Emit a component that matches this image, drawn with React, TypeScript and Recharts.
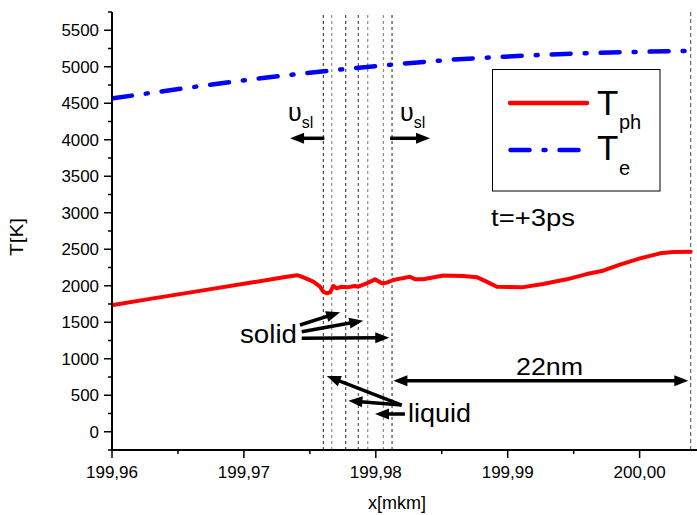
import React from 'react';
import { LineChart, Line, XAxis, YAxis, ReferenceLine, Customized } from 'recharts';

const FONT = '"Liberation Sans", Arial, Helvetica, sans-serif';

// T_ph (lattice temperature), red solid
const tphX = [199.96008, 199.96288, 199.96667, 199.97046, 199.97312, 199.97403, 199.97438, 199.97526, 199.97577, 199.97602, 199.97628, 199.97653, 199.97678, 199.97704, 199.97741, 199.97779, 199.97842, 199.97867, 199.97931, 199.97994, 199.98045, 199.98083, 199.98133, 199.98196, 199.98259, 199.98297, 199.9836, 199.98512, 199.98663, 199.98765, 199.98835, 199.98917, 199.99106, 199.99268, 199.99447, 199.99599, 199.99723, 199.99851, 200.00003, 200.00155, 200.00253, 200.00387];
const tphY = [1736, 1820, 1930, 2040, 2120, 2145, 2124, 2056, 1987, 1918, 1897, 1910, 1997, 1965, 1987, 1978, 1997, 1987, 2033, 2088, 2033, 2042, 2079, 2101, 2124, 2088, 2088, 2140, 2132, 2118, 2060, 1987, 1978, 2023, 2088, 2160, 2206, 2290, 2375, 2444, 2462, 2466];

// T_e (electron temperature), blue dash-dot
const teX = [199.96008, 199.96288, 199.96667, 199.97046, 199.97425, 199.97804, 199.98184, 199.98563, 199.98942, 199.99321, 199.997, 200.00079, 200.00387];
const teY = [4568, 4640, 4735, 4825, 4905, 4975, 5040, 5095, 5135, 5168, 5192, 5208, 5218];

const xTicks = [199.96, 199.965, 199.97, 199.975, 199.98, 199.985, 199.99, 199.995, 200.0];
const yTicks = [-250, 0, 250, 500, 750, 1000, 1250, 1500, 1750, 2000, 2250, 2500, 2750, 3000, 3250, 3500, 3750, 4000, 4250, 4500, 4750, 5000, 5250, 5500, 5750];

// vertical dashed lines (interface positions) and 22nm end marker
const interfaceX = [199.97602, 199.97666, 199.97772, 199.97867, 199.97939, 199.98057, 199.98123];
const interfaceColors = ['#222', '#777', '#222', '#333', '#777', '#777', '#222'];
const rangeEndX = 200.00387;

// annotation arrows: [fromX, fromY, toX, toY, doubleHeaded]
const arrows: [number, number, number, number, boolean][] = [
  [199.9761, 4020, 199.9735, 4020, false],
  [199.98108, 4020, 199.98411, 4020, false],
  [199.97425, 1462, 199.97729, 1636, false],
  [199.97438, 1371, 199.97905, 1521, false],
  [199.97438, 1280, 199.98102, 1288, false],
  [199.98196, 366, 199.97628, 764, false],
  [199.98196, 366, 199.97792, 425, false],
  [199.98221, 243, 199.97994, 243, false],
  [199.98133, 699, 200.00369, 699, true],
];

const tphData = tphX.map((x, i) => ({ x, y: tphY[i] }));
const teData = teX.map((x, i) => ({ x, y: teY[i] }));

const charW = (s: string, d: number, c: number) =>
  s.split('').reduce((a, ch) => a + (ch === ',' ? c : d), 0);

const XTick = (props: any) => {
  const { x, y, payload } = props;
  const v: number = payload.value;
  const major = Math.abs(v * 100 - Math.round(v * 100)) < 1e-6;
  const label = v.toFixed(2).replace('.', ',');
  return (
    <g>
      <line x1={x} x2={x} y1={y} y2={y + (major ? 8 : 4)} stroke="#000" strokeWidth={1.5} />
      {major && (
        <text x={x} y={y + 28} textAnchor="middle" fontSize={17} fontFamily={FONT} fill="#000"
          textLength={charW(label, 9.5, 4.6)} lengthAdjust="spacingAndGlyphs">
          {label}
        </text>
      )}
    </g>
  );
};

const YTick = (props: any) => {
  const { x, y, payload } = props;
  const v: number = payload.value;
  const major = v % 500 === 0;
  const label = String(v);
  return (
    <g>
      <line x1={x - (major ? 8 : 4)} x2={x} y1={y} y2={y} stroke="#000" strokeWidth={1.5} />
      {major && (
        <text x={x - 13} y={y + 6} textAnchor="end" fontSize={17} fontFamily={FONT} fill="#000"
          textLength={charW(label, 9.4, 4.6)} lengthAdjust="spacingAndGlyphs">
          {label}
        </text>
      )}
    </g>
  );
};

const head = (tx: number, ty: number, ux: number, uy: number, hl: number, hw: number) => {
  const bx = tx - ux * hl;
  const by = ty - uy * hl;
  const px = -uy * hw;
  const py = ux * hw;
  return `${tx},${ty} ${bx + px},${by + py} ${bx - px},${by - py}`;
};

const makeArrow = (both: boolean) => (p: any) => {
  const { x1, y1, x2, y2 } = p;
  const dx = x2 - x1;
  const dy = y2 - y1;
  const len = Math.hypot(dx, dy) || 1;
  const ux = dx / len;
  const uy = dy / len;
  const hl = 14;
  const hw = 5.5;
  const sx = both ? x1 + ux * (hl - 2) : x1;
  const sy = both ? y1 + uy * (hl - 2) : y1;
  const ex = x2 - ux * (hl - 2);
  const ey = y2 - uy * (hl - 2);
  return (
    <g>
      <line x1={sx} y1={sy} x2={ex} y2={ey} stroke="#000" strokeWidth={3.5} />
      <polygon points={head(x2, y2, ux, uy, hl, hw)} fill="#000" />
      {both && <polygon points={head(x1, y1, -ux, -uy, hl, hw)} fill="#000" />}
    </g>
  );
};

const Overlay = () => (
  <g fontFamily={FONT} fill="#000">
    {/* velocity labels */}
    <text x={288} y={121} fontSize={25}>υ<tspan fontSize={16} dy={7}>sl</tspan></text>
    <text x={400} y={121} fontSize={25}>υ<tspan fontSize={16} dy={7}>sl</tspan></text>
    <text x={240} y={343} fontSize={25} textLength={57} lengthAdjust="spacingAndGlyphs">solid</text>
    <text x={408} y={422} fontSize={25} textLength={63} lengthAdjust="spacingAndGlyphs">liquid</text>
    <text x={516} y={375} fontSize={24} textLength={67} lengthAdjust="spacingAndGlyphs">22nm</text>
    <text x={491} y={226} fontSize={24} textLength={84} lengthAdjust="spacingAndGlyphs">t=+3ps</text>
    {/* legend */}
    <rect x={492.5} y={69.5} width={167.5} height={121.5} fill="#fff" stroke="#000" strokeWidth={1} />
    <line x1={510} y1={103} x2={587} y2={103} stroke="#ff0000" strokeWidth={4.5} strokeLinecap="round" />
    <line x1={510.5} y1={150} x2={578.5} y2={150} stroke="#0000ff" strokeWidth={4.5}
      strokeLinecap="round" strokeDasharray="19 14 2 14" />
    <text x={597} y={115} fontSize={35}>T</text>
    <text x={619} y={129} fontSize={20}>ph</text>
    <text x={597} y={160} fontSize={35}>T</text>
    <text x={619} y={175} fontSize={20}>e</text>
    {/* axis titles */}
    <text transform="translate(23,237) rotate(-90)" textAnchor="middle" fontSize={18}
      textLength={38} lengthAdjust="spacingAndGlyphs">T[K]</text>
    <text x={397} y={509} textAnchor="middle" fontSize={18}>x[mkm]</text>
  </g>
);

export default function App() {
  return (
    <div style={{ position: 'absolute', left: 0, top: 0, width: 697, height: 515, background: '#fff' }}>
      <LineChart width={697} height={515} margin={{ top: 12, right: 0, bottom: 35, left: 0 }}>
        <XAxis
          dataKey="x"
          type="number"
          domain={[199.96, 200.00435]}
          allowDataOverflow
          ticks={xTicks}
          interval={0}
          tickSize={0}
          tickMargin={0}
          tickLine={false}
          tick={<XTick />}
          height={30}
          axisLine={{ stroke: '#000', strokeWidth: 2 }}
        />
        <YAxis
          dataKey="y"
          type="number"
          domain={[-250, 5750]}
          allowDataOverflow
          ticks={yTicks}
          interval={0}
          tickSize={0}
          tickMargin={0}
          tickLine={false}
          tick={<YTick />}
          width={112}
          axisLine={{ stroke: '#000', strokeWidth: 2 }}
        />
        {interfaceX.map((x, i) => (
          <ReferenceLine key={'il' + i} x={x} stroke={interfaceColors[i]} strokeWidth={1} strokeDasharray="3 3" />
        ))}
        <ReferenceLine x={rangeEndX} stroke="#666" strokeWidth={1.2} strokeDasharray="4 3" />
        <Line data={teData} dataKey="y" type="linear" stroke="#0000ff" strokeWidth={4.5}
          strokeDasharray="19 14 2 14" strokeLinecap="round" dot={false} isAnimationActive={false} />
        <Line data={tphData} dataKey="y" type="linear" stroke="#ff0000" strokeWidth={4}
          strokeLinejoin="round" strokeLinecap="round" dot={false} isAnimationActive={false} />
        {arrows.map((a, i) => (
          <ReferenceLine key={'ar' + i} segment={[{ x: a[0], y: a[1] }, { x: a[2], y: a[3] }]}
            shape={makeArrow(a[4])} />
        ))}
        <Customized component={Overlay} />
      </LineChart>
    </div>
  );
}
